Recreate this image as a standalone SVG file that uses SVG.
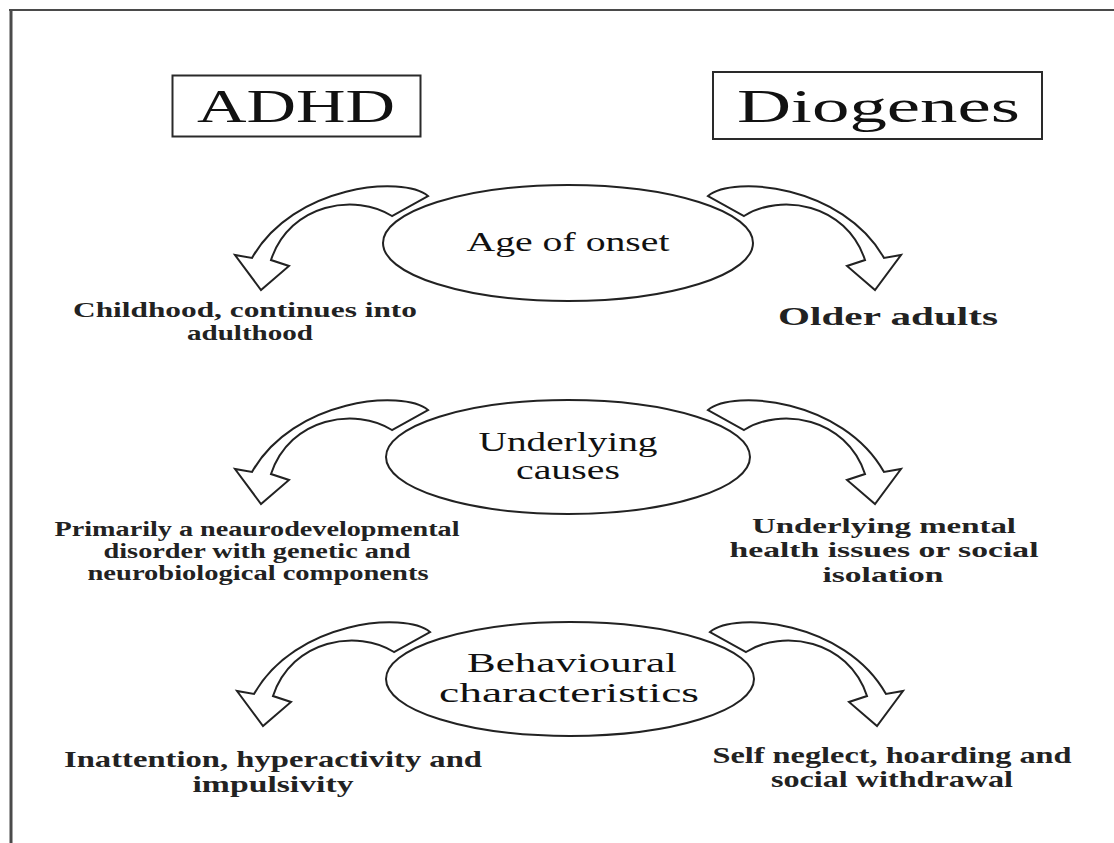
<svg xmlns="http://www.w3.org/2000/svg" width="1114" height="843" viewBox="0 0 1114 843">
<defs>
<style>
.frame{fill:none;stroke:#4a4a4a;}
.box{fill:#fff;stroke:#2a2a2a;stroke-width:2;}
.ell{fill:#fff;stroke:#222;stroke-width:2;}
.arr{fill:#fff;stroke:#222;stroke-width:2;stroke-linejoin:miter;}
.t{font-family:"Liberation Serif","Times New Roman",serif;fill:#111;text-anchor:middle;}
.hd{font-size:46px;}
.el{font-size:28px;}
.lb{font-weight:bold;fill:#222;}
</style>
<path id="arrowL" d="M -140,-47 C -165,-68 -275,-58 -316,15 L -333,12 L -307,47 L -279,23 L -297,17 C -278,-40 -212,-50 -176,-27 Z"/>
</defs>
<rect width="1114" height="843" fill="#fff"/>
<g id="frame">
<line class="frame" x1="9" y1="10" x2="1114" y2="10" stroke-width="2"/>
<line class="frame" x1="11" y1="9" x2="11" y2="843" stroke-width="3"/>
</g>
<g id="adhd">
<rect class="box" x="172.5" y="75.5" width="248" height="61"/>
<text class="t hd" x="296" y="122" textLength="198" lengthAdjust="spacingAndGlyphs">ADHD</text>
</g>
<g id="diogenes">
<rect class="box" x="713" y="72" width="329" height="67"/>
<text class="t hd" x="878.5" y="122" font-size="48" textLength="283" lengthAdjust="spacingAndGlyphs">Diogenes</text>
</g>
<g id="connectors">
<use href="#arrowL" class="arr" transform="translate(568,243)"/>
<use href="#arrowL" class="arr" transform="translate(568,243) scale(-1,1)"/>
<use href="#arrowL" class="arr" transform="translate(568,457)"/>
<use href="#arrowL" class="arr" transform="translate(568,457) scale(-1,1)"/>
<use href="#arrowL" class="arr" transform="translate(570,679)"/>
<use href="#arrowL" class="arr" transform="translate(570,679) scale(-1,1)"/>
</g>
<g id="age">
<ellipse class="ell" cx="568" cy="243" rx="185" ry="58"/>
<text class="t el" x="568" y="251" font-size="27" textLength="203" lengthAdjust="spacingAndGlyphs">Age of onset</text>
</g>
<g id="causes">
<ellipse class="ell" cx="568" cy="457" rx="182" ry="57"/>
<text class="t el" x="568" y="451" font-size="27" textLength="179" lengthAdjust="spacingAndGlyphs">Underlying</text>
<text class="t el" x="568" y="479" font-size="27" textLength="104" lengthAdjust="spacingAndGlyphs">causes</text>
</g>
<g id="behaviour">
<ellipse class="ell" cx="570" cy="679" rx="184" ry="57"/>
<text class="t el" x="572" y="672" font-size="31" textLength="210" lengthAdjust="spacingAndGlyphs">Behavioural</text>
<text class="t el" x="569" y="702" font-size="31" textLength="260" lengthAdjust="spacingAndGlyphs">characteristics</text>
</g>
<g id="adhd-onset">
<text class="t lb" x="245" y="317" font-size="21" textLength="344" lengthAdjust="spacingAndGlyphs">Childhood, continues into</text>
<text class="t lb" x="250" y="340" font-size="21" textLength="126" lengthAdjust="spacingAndGlyphs">adulthood</text>
</g>
<g id="diogenes-onset">
<text class="t lb" x="888" y="325" font-size="25" textLength="220" lengthAdjust="spacingAndGlyphs">Older adults</text>
</g>
<g id="adhd-causes">
<text class="t lb" x="257" y="536" font-size="20" textLength="405" lengthAdjust="spacingAndGlyphs">Primarily a neaurodevelopmental</text>
<text class="t lb" x="257" y="558" font-size="20" textLength="307" lengthAdjust="spacingAndGlyphs">disorder with genetic and</text>
<text class="t lb" x="258" y="580" font-size="20" textLength="341" lengthAdjust="spacingAndGlyphs">neurobiological components</text>
</g>
<g id="diogenes-causes">
<text class="t lb" x="884" y="533" font-size="22" textLength="264" lengthAdjust="spacingAndGlyphs">Underlying mental</text>
<text class="t lb" x="884" y="557" font-size="22" textLength="309" lengthAdjust="spacingAndGlyphs">health issues or social</text>
<text class="t lb" x="883" y="582" font-size="22" textLength="121" lengthAdjust="spacingAndGlyphs">isolation</text>
</g>
<g id="adhd-behaviour">
<text class="t lb" x="273" y="767" font-size="23" textLength="418" lengthAdjust="spacingAndGlyphs">Inattention, hyperactivity and</text>
<text class="t lb" x="273" y="792" font-size="23" textLength="161" lengthAdjust="spacingAndGlyphs">impulsivity</text>
</g>
<g id="diogenes-behaviour">
<text class="t lb" x="892" y="763" font-size="23" textLength="359" lengthAdjust="spacingAndGlyphs">Self neglect, hoarding and</text>
<text class="t lb" x="892" y="787" font-size="23" textLength="242" lengthAdjust="spacingAndGlyphs">social withdrawal</text>
</g>
</svg>
